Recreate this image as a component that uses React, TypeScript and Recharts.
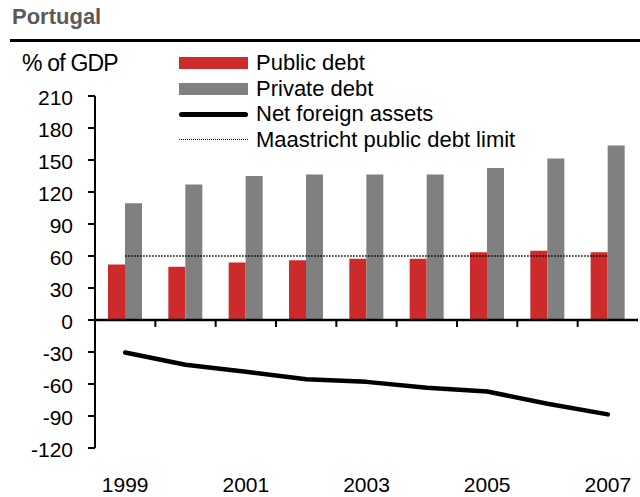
import React from 'react';
import { ComposedChart, Bar, Line, XAxis, YAxis, ReferenceLine } from 'recharts';

const years = ['1999', '2000', '2001', '2002', '2003', '2004', '2005', '2006', '2007'];
const publicDebt = [52, 50, 54, 56, 57.5, 57.5, 63.5, 65, 63.5];
const privateDebt = [109.5, 127, 135, 136.5, 136.5, 136.5, 142.5, 151.5, 163.5];
const netForeignAssets = [-30.5, -42, -48.5, -55.5, -58, -63.5, -67, -78.5, -88.5];
const maastrichtLimit = [60, 60, 60, 60, 60, 60, 60, 60, 60];
const yTicks = [-120, -90, -60, -30, 0, 30, 60, 90, 120, 150, 180, 210];

const RED = '#CC2A2B';
const GREY = '#808080';
const FONT = '"Liberation Sans", Arial, sans-serif';

const data = years.map((y, i) => ({
  year: y,
  publicDebt: publicDebt[i],
  privateDebt: privateDebt[i],
  nfa: netForeignAssets[i],
  limit: maastrichtLimit[i],
}));

const legendItems = [
  { label: 'Public debt', kind: 'bar', color: RED },
  { label: 'Private debt', kind: 'bar', color: GREY },
  { label: 'Net foreign assets', kind: 'line', color: '#000' },
  { label: 'Maastricht public debt limit', kind: 'dot', color: '#000' },
];

const LegendBox = () => (
  <div style={{ position: 'absolute', left: 179, top: 50.5, fontFamily: FONT, fontSize: 22, color: '#000' }}>
    {legendItems.map((it) => (
      <div key={it.label} style={{ display: 'flex', alignItems: 'center', height: 25.5 }}>
        <div style={{ width: 69, height: 12, display: 'flex', alignItems: 'center' }}>
          {it.kind === 'bar' && <div style={{ width: 69, height: 12, background: it.color }} />}
          {it.kind === 'line' && <div style={{ width: 69, height: 5, borderRadius: 3, background: it.color }} />}
          {it.kind === 'dot' && <div style={{ width: 69, height: 0, borderTop: '1.5px dotted #000' }} />}
        </div>
        <span style={{ marginLeft: 8, letterSpacing: 0, whiteSpace: 'nowrap' }}>{it.label}</span>
      </div>
    ))}
  </div>
);

export default function App() {
  return (
    <div style={{ position: 'absolute', left: 0, top: 0, width: 640, height: 497, background: '#fff', fontFamily: FONT }}>
      <ComposedChart
        width={640}
        height={497}
        data={data}
        margin={{ top: 96, right: 2, bottom: 0, left: 0 }}
        barGap={0}
        style={{ position: 'absolute', left: 0, top: 0 }}
      >
        <XAxis
          dataKey="year"
          height={49}
          axisLine={false}
          tickLine={false}
          tickSize={0}
          tickMargin={29}
          interval={1}
          tick={{ fontSize: 21, fill: '#000', fontFamily: FONT }}
        />
        <YAxis
          width={95}
          domain={[-120, 210]}
          ticks={yTicks}
          interval={0}
          allowDataOverflow
          axisLine={{ stroke: '#000', strokeWidth: 2 }}
          tickLine={{ stroke: '#000', strokeWidth: 2 }}
          tickSize={7}
          tickMargin={15}
          tick={{ fontSize: 21, fill: '#000', fontFamily: FONT, dy: 1.5 }}
        />
        <Bar dataKey="publicDebt" fill={RED} barSize={17} isAnimationActive={false} />
        <Bar dataKey="privateDebt" fill={GREY} barSize={17} isAnimationActive={false} />
        <ReferenceLine y={0} stroke="#000" strokeWidth={2.5} />
        {years.map((y) => (
          <ReferenceLine
            key={'t' + y}
            segment={[{ x: y, y: 0 }, { x: y, y: -6.5 }]}
            position="start"
            stroke="#000"
            strokeWidth={2}
          />
        ))}
        <ReferenceLine
          segment={[{ x: years[years.length - 1], y: 0 }, { x: years[years.length - 1], y: -6.5 }]}
          position="end"
          stroke="#000"
          strokeWidth={2}
        />
        <Line
          dataKey="limit"
          stroke="#000"
          strokeWidth={1.5}
          strokeDasharray="1.5 1.5"
          dot={false}
          activeDot={false}
          isAnimationActive={false}
        />
        <Line
          dataKey="nfa"
          stroke="#000"
          strokeWidth={4.5}
          strokeLinecap="round"
          strokeLinejoin="round"
          dot={false}
          activeDot={false}
          isAnimationActive={false}
        />
      </ComposedChart>
      <div style={{ position: 'absolute', left: 12, top: 4, fontSize: 22, fontWeight: 'bold', color: '#5a5a5a' }}>Portugal</div>
      <div style={{ position: 'absolute', left: 10, top: 39, width: 630, height: 2.5, background: '#000' }} />
      <div style={{ position: 'absolute', left: 22, top: 50, fontSize: 23, color: '#000', letterSpacing: -0.8 }}>% of GDP</div>
      <LegendBox />
    </div>
  );
}
